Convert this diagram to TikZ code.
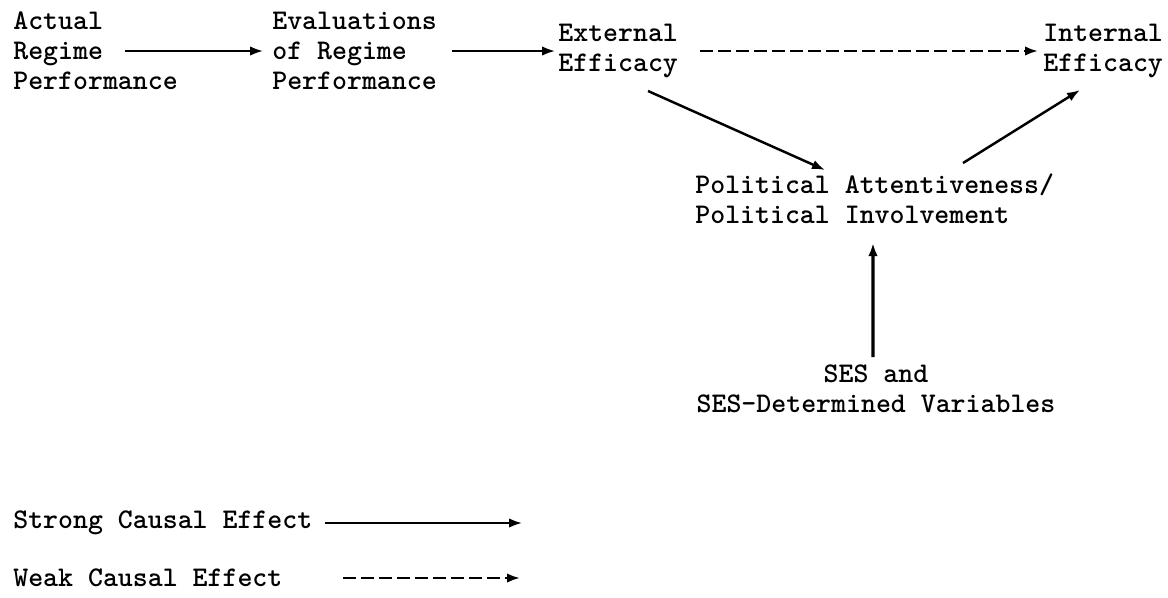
\documentclass[tikz,border=0pt]{standalone}
\usepackage{fontspec}
\usepackage{tikz}
\usetikzlibrary{arrows.meta}

\begin{document}
\begin{tikzpicture}[
    lbl/.style={font=\ttfamily\bfseries\fontsize{16.2}{17.07}\selectfont, inner sep=0pt, anchor=west, align=left},
    strong/.style={line width=1.2pt, -{Latex[length=0.26cm,width=0.19cm]}},
    weak/.style={line width=1.4pt, dash pattern=on 0.26cm off 0.1cm, -{Latex[length=0.26cm,width=0.19cm]}}
  ]
        \useasboundingbox (0,0) rectangle (23.36,-11.94);
        % top row
        \node[lbl] (actual) at (0.26,-1.02) {Actual\\Regime\\Performance};
        \node[lbl] (evals) at (5.44,-1.02) {Evaluations\\of Regime\\Performance};
        \node[lbl] (ext) at (11.16,-1.02) {External\\Efficacy};
        \node[lbl] (int) at (20.86,-1.02) {Internal\\Efficacy};
        % middle
        \node[lbl] (attn) at (13.9,-3.98) {Political Attentiveness/\\Political Involvement};
        \node[lbl, anchor=center, align=center] (ses) at (17.52,-7.78) {SES and\\SES-Determined Variables};
        % legend
        \node[lbl] (strongtxt) at (0.26,-10.46) {Strong Causal Effect};
        \node[lbl] (weaktxt) at (0.26,-11.56) {Weak Causal Effect};

        \draw[strong] ([xshift=2.24cm]actual.west) -- ([xshift=-0.18cm]evals.west);
        \draw[strong] ([xshift=3.6cm]evals.west) -- ([xshift=-0.06cm]ext.west);
        \draw[weak] ([xshift=2.84cm]ext.west) -- ([xshift=-0.1cm]int.west);
        \draw[strong, line width=1.4pt] ([xshift=1.8cm,yshift=-0.8cm]ext.west) -- ([xshift=2.6cm,yshift=0.58cm]attn.west);
        \draw[strong, line width=1.4pt] ([xshift=5.36cm,yshift=0.72cm]attn.west) -- ([xshift=0.74cm,yshift=-0.78cm]int.west);
        \draw[strong, line width=1.8pt] ([xshift=-0.06cm,yshift=0.64cm]ses.center) -- ([xshift=3.56cm,yshift=-0.88cm]attn.west);

        \draw[strong] ([xshift=6.24cm]strongtxt.west) -- ++(3.94,0);
        \draw[weak] ([xshift=6.6cm]weaktxt.west) -- ++(3.54,0);
      \end{tikzpicture}
\end{document}
